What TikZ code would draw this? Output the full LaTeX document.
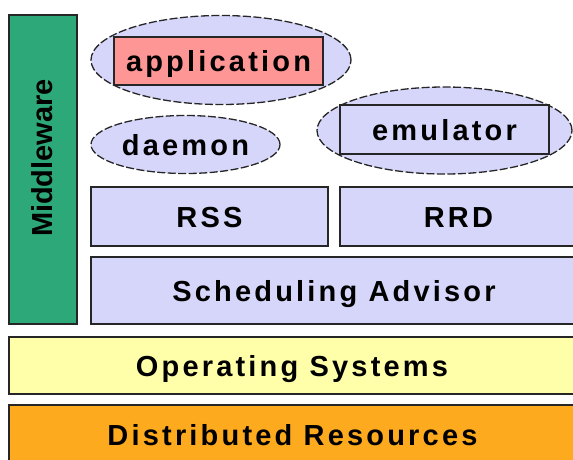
\documentclass[tikz,border=0pt]{standalone}
\usepackage{fontspec}
\usepackage{tikz}
\usetikzlibrary{shapes.geometric,positioning}
\newfontfamily\boxfont{Liberation Sans}[LetterSpace=11]
\newfontfamily\sidefont{Liberation Sans}
\definecolor{mwgreen}{RGB}{45,168,120}
\definecolor{lavender}{RGB}{214,214,250}
\definecolor{salmon}{RGB}{255,150,150}
\definecolor{osyellow}{RGB}{255,255,170}
\definecolor{resorange}{RGB}{254,170,30}

\begin{document}
\begin{tikzpicture}[x=1pt,y=-1pt,
  layer/.style={draw=black!85,line width=1.6pt,rectangle,inner sep=0pt,fill=lavender,
    font=\boxfont\bfseries\fontsize{29}{31}\selectfont,text height=21pt,text depth=0pt},
  blob/.style={draw=black!85,line width=1.3pt,dash pattern=on 8pt off 2.5pt,ellipse,inner sep=0pt,fill=lavender,
    font=\boxfont\bfseries\fontsize{29}{31}\selectfont,text height=21pt,text depth=0pt}]
        \useasboundingbox (0,0) rectangle (573,459);
        \clip (0,0) rectangle (573,459);
        \node [layer, fill=mwgreen, minimum width=68, minimum height=309] (mw) at (43,169.5) {};
        \node [rotate=90, font=\sidefont\bfseries\fontsize{29}{31}\selectfont, text height=22pt, text depth=0pt] (mwlabel) at (41.5,158) {Middleware};
        \node [blob, minimum width=260, minimum height=89] (appblob) at (221,60) {};
        \node [layer, fill=salmon, minimum width=209, minimum height=48] (app) at (218.5,61) {application};
        \node [blob, minimum width=189, minimum height=58] (daemon) at (185.5,144.5) {daemon};
        \node [blob, minimum width=255, minimum height=87] (emublob) at (444.5,130.5) {};
        \node [layer, minimum width=209, minimum height=49] (emu) at (444.5,129.5) {emulator};
        \node [layer, minimum width=237, minimum height=59] (rss) at (209.5,216.5) {RSS};
        \node [layer, minimum width=237, minimum height=59] (rrd) at (458.5,216.5) {RRD};
        \node [layer, minimum width=486, minimum height=67] (sched) at (334,290.5) {Scheduling Advisor};
        \node [layer, fill=osyellow, minimum width=566, minimum height=57] (os) at (292,365.5) {Operating Systems};
        \node [layer, fill=resorange, minimum width=567, minimum height=60] (res) at (292.5,435) {Distributed Resources};
\end{tikzpicture}
\end{document}
